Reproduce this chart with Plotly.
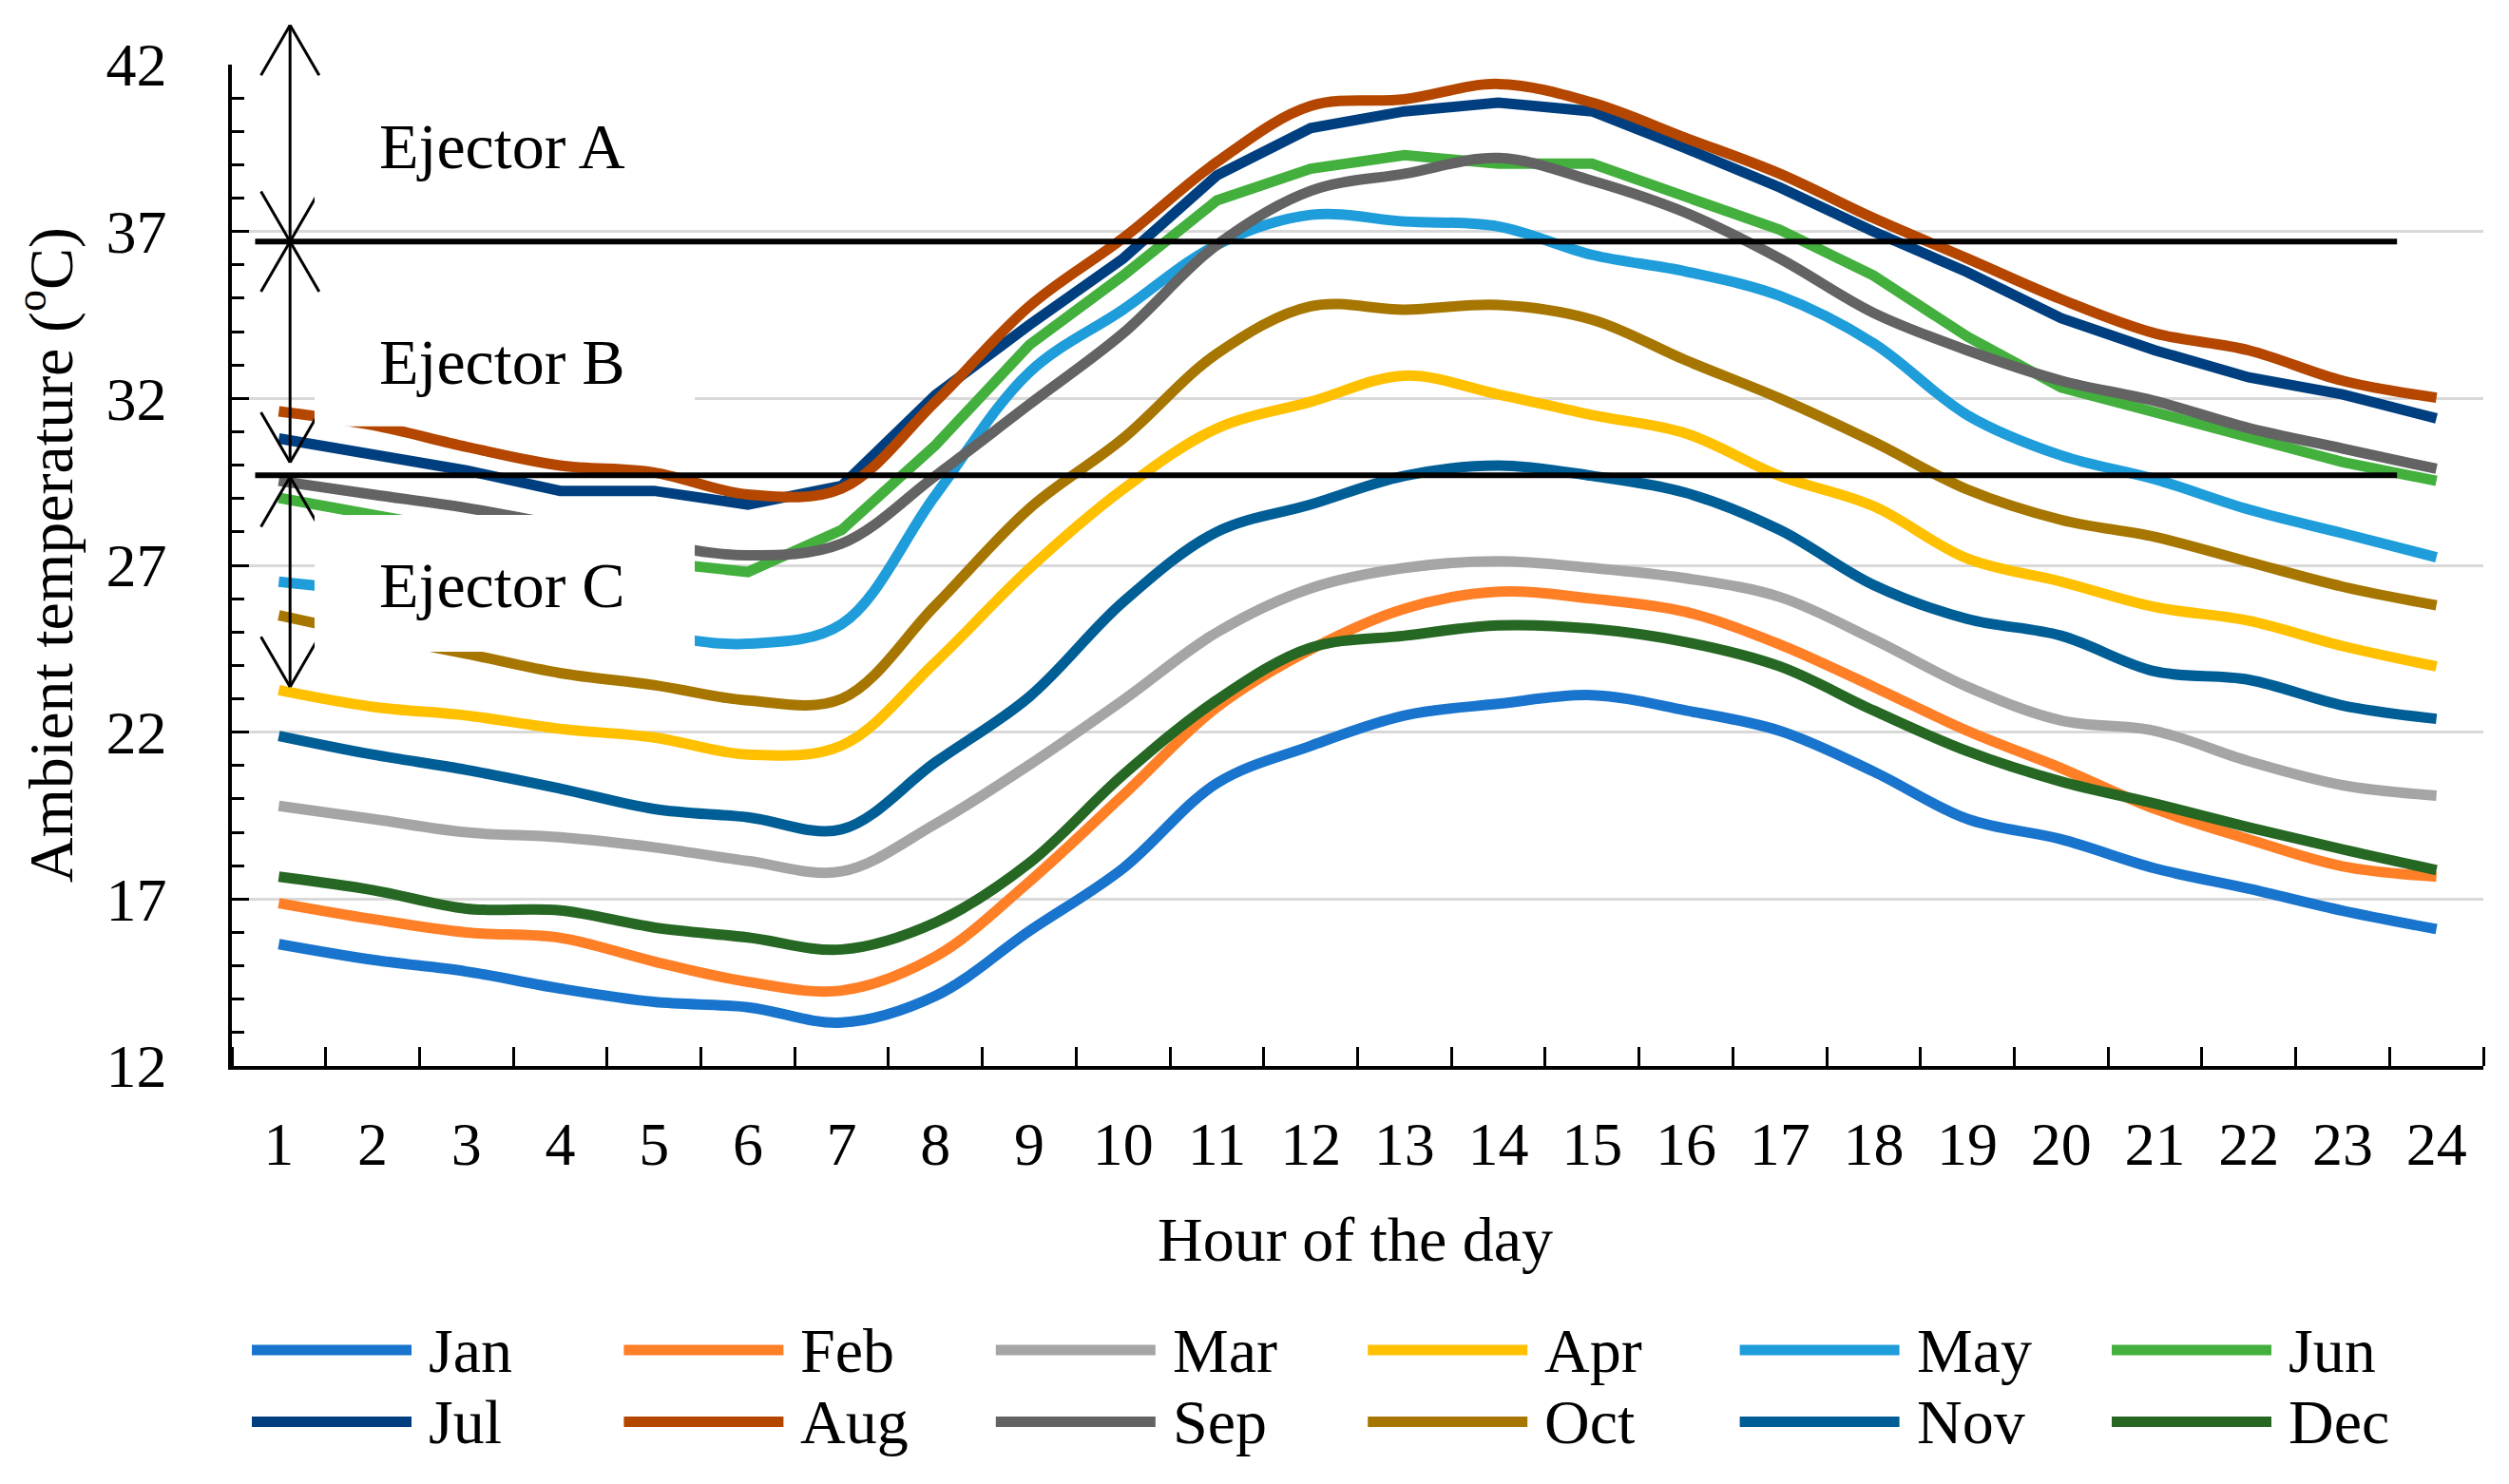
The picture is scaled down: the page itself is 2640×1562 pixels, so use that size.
import plotly.graph_objects as go

# ---------------- data ----------------
hours = list(range(1, 25))
hour_labels = [str(h) for h in hours]
months = ["Jan", "Feb", "Mar", "Apr", "May", "Jun",
          "Jul", "Aug", "Sep", "Oct", "Nov", "Dec"]

jan = [15.65, 15.18, 14.83, 14.32, 13.92, 13.76, 13.3, 14.1, 16.04, 17.92, 20.47, 21.59,
       22.5, 22.85, 23.11, 22.65, 22.04, 20.82, 19.4, 18.79, 17.92, 17.31, 16.65, 16.1]
feb = [16.88, 16.4, 16.0, 15.84, 15.13, 14.52, 14.26, 15.28, 17.52, 20.11, 22.75, 24.48,
       25.7, 26.21, 26.0, 25.6, 24.63, 23.36, 22.04, 20.92, 19.7, 18.79, 17.98, 17.67]
mar = [19.79, 19.4, 19.0, 18.85, 18.55, 18.14, 17.83, 19.25, 21.02, 22.96, 24.99, 26.31,
       26.92, 27.12, 26.92, 26.61, 26.05, 24.78, 23.36, 22.35, 22.04, 21.13, 20.41, 20.1]
apr = [23.26, 22.76, 22.5, 22.1, 21.84, 21.33, 21.6, 24.1, 26.9, 29.28, 31.1, 31.9,
       32.68, 32.12, 31.5, 30.95, 29.68, 28.77, 27.2, 26.51, 25.75, 25.34, 24.58, 23.97]
may = [26.51, 26.2, 25.8, 25.3, 24.9, 24.65, 25.24, 29.1, 32.78, 34.66, 36.6, 37.5,
       37.3, 37.15, 36.3, 35.8, 35.07, 33.65, 31.5, 30.29, 29.58, 28.67, 27.96, 27.24]
jun = [29.02, 28.5, 28.0, 27.5, 27.1, 26.8, 28.06, 30.6, 33.6, 35.68, 37.93, 38.88,
       39.29, 39.03, 39.03, 38.0, 37.05, 35.68, 33.85, 32.33, 31.6, 30.9, 30.09, 29.53]
jul = [30.8, 30.29, 29.84, 29.23, 29.23, 28.82, 29.38, 32.1, 34.2, 36.19, 38.68, 40.1,
       40.6, 40.86, 40.6, 39.49, 38.32, 37.0, 35.78, 34.4, 33.44, 32.63, 32.12, 31.4]
aug = [31.61, 31.2, 30.55, 29.99, 29.78, 29.12, 29.3, 31.9, 34.76, 36.8, 39.08, 40.76,
       40.96, 41.42, 40.86, 39.8, 38.73, 37.4, 36.19, 34.97, 33.95, 33.44, 32.53, 32.02]
sep = [29.53, 29.12, 28.72, 28.2, 27.65, 27.3, 27.65, 29.68, 31.82, 33.95, 36.6, 38.22,
       38.73, 39.2, 38.52, 37.56, 36.19, 34.56, 33.44, 32.53, 31.92, 31.11, 30.5, 29.89]
oct_ = [25.5, 24.9, 24.35, 23.77, 23.41, 22.95, 23.0, 25.8, 28.7, 30.8, 33.34, 34.76,
        34.66, 34.8, 34.36, 33.14, 32.0, 30.7, 29.27, 28.36, 27.85, 27.1, 26.36, 25.8]
nov = [21.89, 21.33, 20.87, 20.31, 19.7, 19.45, 19.09, 21.1, 23.06, 25.9, 28.0, 28.82,
       29.68, 29.99, 29.68, 29.17, 28.06, 26.41, 25.39, 24.89, 23.82, 23.57, 22.8, 22.4]
dec = [17.67, 17.27, 16.71, 16.66, 16.15, 15.85, 15.49, 16.3, 18.08, 20.72, 22.96, 24.53,
       24.89, 25.2, 25.1, 24.7, 23.97, 22.65, 21.43, 20.52, 19.86, 19.15, 18.49, 17.87]

series = [jan, feb, mar, apr, may, jun, jul, aug, sep, oct_, nov, dec]
colors = ["#1874CD", "#FF7F27", "#A5A5A5", "#FFC000", "#1E9DDA", "#43B03E",
          "#003F7F", "#B44600", "#636363", "#A67600", "#005E96", "#266823"]
shapes_kind = ["spline", "spline", "spline", "spline", "spline", "linear",
               "linear", "spline", "spline", "spline", "spline", "spline"]

# ejector thresholds and zones
thr_high = 36.7
thr_low = 29.7
zone_labels = ["Ejector A", "Ejector B", "Ejector C"]
zone_label_y = [39.55, 33.1, 26.4]

X_MIN, X_MAX = 0.5, 24.5
Y_MIN, Y_MAX = 12, 42

FONT = "Liberation Serif"

fig = go.Figure()
for name, vals, col, ls in zip(months, series, colors, shapes_kind):
    fig.add_trace(go.Scatter(
        x=hours, y=vals, mode="lines", name=name,
        line=dict(color=col, width=11, shape=ls, smoothing=1.0),
        showlegend=False, hoverinfo="x+y+name"))


def xp(x):
    return (x - X_MIN) / (X_MAX - X_MIN)


def yp(v):
    return (v - Y_MIN) / (Y_MAX - Y_MIN)


shapes = []
arrow_x = 1.12
hw = 0.31   # half width of arrow head (hours)
hl = 1.5    # arrow head length (deg C)


def seg(x0, y0, x1, y1, w=3):
    shapes.append(dict(type="line", xref="paper", yref="paper",
                       x0=xp(x0), y0=yp(y0), x1=xp(x1), y1=yp(y1),
                       line=dict(color="black", width=w), layer="above"))


def double_arrow(top, bottom):
    seg(arrow_x, top, arrow_x, bottom)
    seg(arrow_x - hw, top - hl, arrow_x, top)
    seg(arrow_x + hw, top - hl, arrow_x, top)
    seg(arrow_x - hw, bottom + hl, arrow_x, bottom)
    seg(arrow_x + hw, bottom + hl, arrow_x, bottom)


double_arrow(43.18, thr_high)
double_arrow(thr_high, 30.08)
double_arrow(29.65, 23.36)

# white label boxes
boxes = [(41.54, 37.5), (35.08, 31.16), (28.51, 24.41)]
for top, bot in boxes:
    shapes.append(dict(type="rect", xref="x", yref="y", x0=1.381, x1=5.434,
                       y0=bot, y1=top, fillcolor="white",
                       line=dict(width=0), layer="above"))

# threshold lines
for t in (thr_high, thr_low):
    shapes.append(dict(type="line", xref="x", yref="y", x0=0.748, x1=23.58,
                       y0=t, y1=t, line=dict(color="black", width=6),
                       layer="above"))

annotations = []
for lab, yv in zip(zone_labels, zone_label_y):
    annotations.append(dict(x=2.05, y=yv, xref="x", yref="y", text=lab,
                            showarrow=False, xanchor="left", yanchor="middle",
                            font=dict(family=FONT, size=68, color="black")))

# axis titles
annotations.append(dict(x=-0.082, y=0.51, xref="paper", yref="paper",
                        text="Ambient temperature (<sup>o</sup>C)", textangle=-90,
                        showarrow=False, xanchor="center", yanchor="middle",
                        font=dict(family=FONT, size=66, color="black")))
annotations.append(dict(x=0.499, y=-0.1736, xref="paper", yref="paper",
                        text="Hour of the day", showarrow=False,
                        xanchor="center", yanchor="middle",
                        font=dict(family=FONT, size=66, color="black")))

# custom legend (long line samples)
plot_w = 2640 - 244 - 27
plot_h = 1122 - 68
col_start = [(265 + i * 391.4 - 244) / plot_w for i in range(6)]
row_y = [-(1421 - 1122) / plot_h, -(1496.5 - 1122) / plot_h]
line_len = 168 / plot_w
text_off = 184 / plot_w
for i, (name, col) in enumerate(zip(months, colors)):
    r, c = divmod(i, 6)
    x0 = col_start[c]
    shapes.append(dict(type="line", xref="paper", yref="paper",
                       x0=x0, x1=x0 + line_len, y0=row_y[r], y1=row_y[r],
                       line=dict(color=col, width=11), layer="above"))
    annotations.append(dict(x=x0 + text_off, y=row_y[r], xref="paper", yref="paper",
                            text=name, showarrow=False, xanchor="left",
                            yanchor="middle",
                            font=dict(family=FONT, size=66, color="black")))

fig.update_layout(
    width=2640, height=1562,
    margin=dict(l=244, r=27, t=68, b=440),
    paper_bgcolor="white", plot_bgcolor="white",
    font=dict(family=FONT, size=64, color="black"),
    shapes=shapes, annotations=annotations,
    showlegend=False,
)

fig.update_xaxes(
    range=[X_MIN, X_MAX], tickmode="array", tickvals=hours, ticktext=hour_labels,
    ticks="", showgrid=False, zeroline=False,
    showline=True, linecolor="black", linewidth=3.5,
    tickfont=dict(family=FONT, size=64, color="black"),
    ticklabelstandoff=23,
    minor=dict(tick0=0.5, dtick=1, ticks="inside", ticklen=20, tickwidth=3,
               tickcolor="black", showgrid=False),
)
fig.update_yaxes(
    range=[Y_MIN, Y_MAX], tickmode="linear", tick0=12, dtick=5,
    ticks="inside", ticklen=18, tickwidth=3, tickcolor="black",
    showgrid=True, gridcolor="#D9D9D9", gridwidth=2.5, zeroline=False,
    showline=True, linecolor="black", linewidth=3.5,
    tickfont=dict(family=FONT, size=64, color="black"),
    ticklabelstandoff=52,
    minor=dict(tick0=12, dtick=1, ticks="inside", ticklen=13, tickwidth=3,
               tickcolor="black", showgrid=False),
)

fig.write_html("out.html", config={"displayModeBar": False},
               post_script="document.body.style.margin='0px';document.body.style.overflow='hidden';")
